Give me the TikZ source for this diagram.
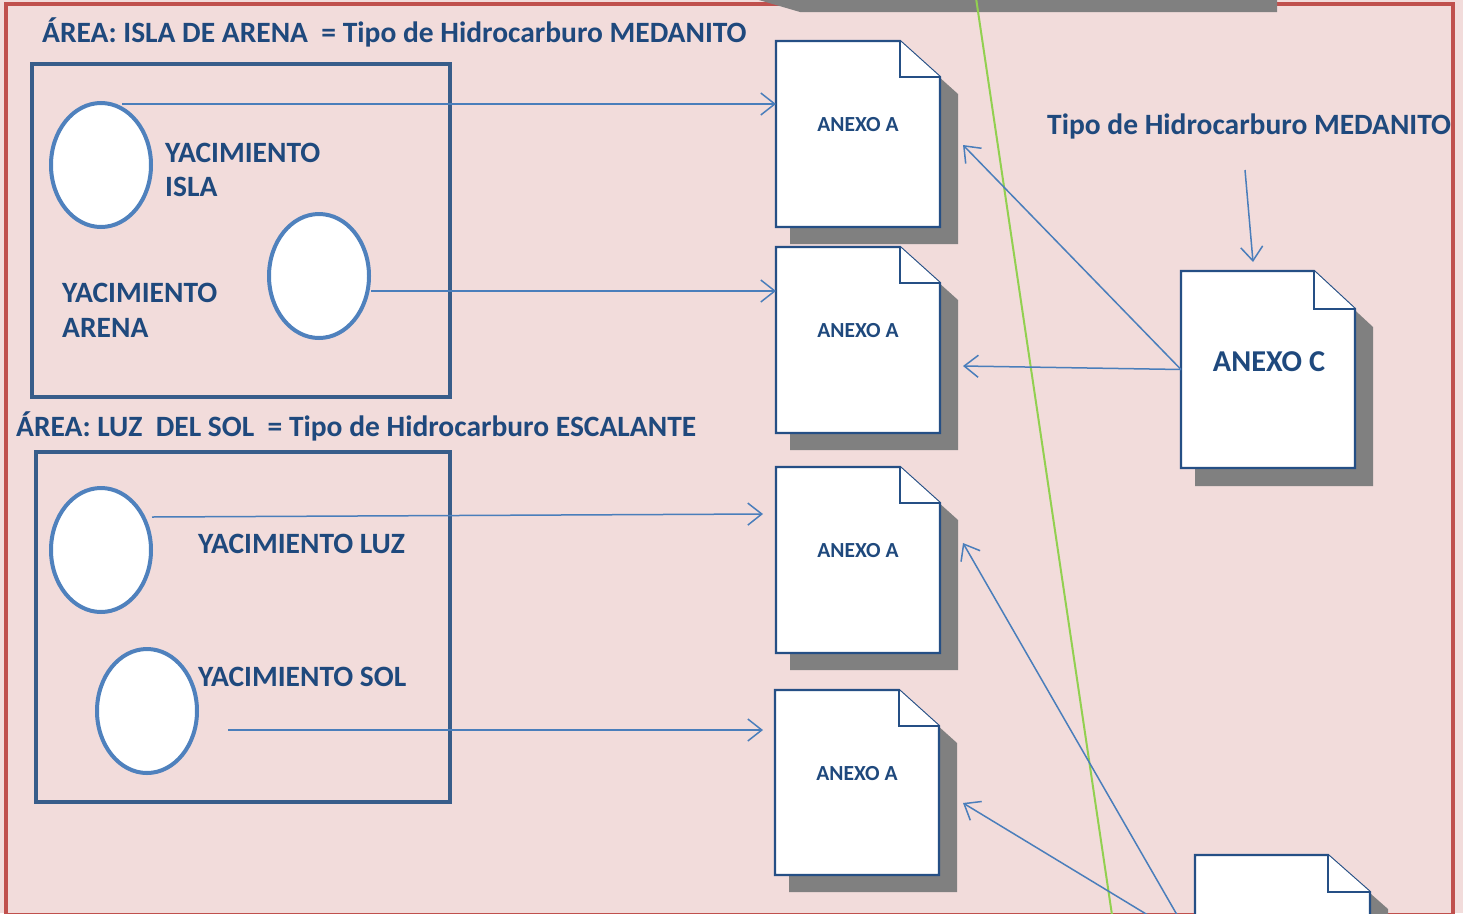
\documentclass[tikz,border=0pt]{standalone}
\usepackage{fontspec}
\setmainfont{Carlito}
\usetikzlibrary{arrows.meta,shapes.geometric}
\definecolor{bgpink}{HTML}{F2DCDB}
\definecolor{bordred}{HTML}{C0504D}
\definecolor{txtblue}{HTML}{1F497D}
\definecolor{boxblue}{HTML}{385D8A}
\definecolor{circblue}{HTML}{4F81BD}
\definecolor{arrblue}{HTML}{4A7EBB}
\definecolor{docblue}{HTML}{254F85}
\definecolor{shadowgray}{HTML}{808080}
\definecolor{greenline}{HTML}{92D050}
% #1 name, #2 left, #3 top, #4 right, #5 bottom, #6 fold width, #7 fold height, #8 shadow dx, #9 shadow dy
\newcommand\drawdoc[9]{%
  \fill[shadowgray] (#2+#8-4,#3+#9) -- (#4-#6+#8,#3+#9) -- (#4+#8,#3+#7+#9) -- (#4+#8,#5+#9) -- (#2+#8-4,#5+#9) -- cycle;
  \filldraw[docline] (#2,#3) -- (#4-#6,#3) -- (#4,#3+#7) -- (#4,#5) -- (#2,#5) -- cycle;
  \draw[docline] (#4-#6,#3) -- (#4-#6,#3+#7) -- (#4,#3+#7);
  \node[inner sep=0pt, outer sep=0pt, minimum width={#4-#2}, minimum height={#5-#3}] (#1) at ({(#2+#4)/2},{(#3+#5)/2}) {};
}
\begin{document}
\begin{tikzpicture}[x=1pt,y=-1pt,
  areabox/.style={draw=boxblue, line width=4pt},
  ell/.style={ellipse, draw=circblue, fill=white, line width=4pt, inner sep=0pt},
  docline/.style={draw=docblue, fill=white, line width=2.2pt, line join=miter},
  arr/.style={draw=arrblue, line width=1.5pt, -{Straight Barb[length=14pt,width=22pt,line width=1.5pt]}},
  ttl/.style={text=txtblue, font=\bfseries\fontsize{29.5}{35}\selectfont, inner sep=0pt, anchor=base west},
  yac/.style={text=txtblue, font=\bfseries\fontsize{29.5}{35}\selectfont, inner sep=0pt, anchor=base west, align=left},
  lblA/.style={text=txtblue, font=\bfseries\fontsize{21.5}{25}\selectfont, inner sep=0pt, anchor=base},
  lblC/.style={text=txtblue, font=\bfseries\fontsize{30.3}{36}\selectfont, inner sep=0pt, anchor=base}
]
\useasboundingbox (0,0) rectangle (1463,913);
\clip (0,0) rectangle (1463,913);
% background and border
\fill[bgpink] (0,0) rectangle (1463,913);
\draw[bordred, line width=4pt] (6,4) rectangle (1453,915);
% gray shadow bar at top
\fill[shadowgray] (752,-2) -- (1277,-2) -- (1277,12) -- (800,12) -- cycle;
% green line
\draw[greenline, line width=2pt] (976,-2) -- (1112,915);

% area boxes
\draw[areabox] (32,64) rectangle (450,397);
\draw[areabox] (36,452) rectangle (450,802);

% titles
\node[ttl] (t1) at (42,42.5) {ÁREA: ISLA DE ARENA\ \ = Tipo de Hidrocarburo MEDANITO};
\node[ttl] (t2) at (16,436) {ÁREA: LUZ\ \ DEL SOL\ \ = Tipo de Hidrocarburo ESCALANTE};
\node[ttl] (t3) at (1047,134) {Tipo de Hidrocarburo MEDANITO};

% circles
\node[ell, minimum width=100pt, minimum height=124pt] (c1) at (101,165) {};
\node[ell, minimum width=100pt, minimum height=124pt] (c2) at (319,276) {};
\node[ell, minimum width=100pt, minimum height=124pt] (c3) at (101,550) {};
\node[ell, minimum width=100pt, minimum height=124pt] (c4) at (147,711) {};

% yacimiento labels
\node[yac] (y1a) at (165,162) {YACIMIENTO};
\node[yac] (y1b) at (165,196) {ISLA};
\node[yac] (y2a) at (62,302) {YACIMIENTO};
\node[yac] (y2b) at (62,337) {ARENA};
\node[yac] (y3) at (198,553) {YACIMIENTO LUZ};
\node[yac] (y4) at (198,686) {YACIMIENTO SOL};

% documents
\drawdoc{d1}{776}{41}{940}{227}{40}{36}{18}{17}
\drawdoc{d2}{776}{247}{940}{433}{40}{36}{18}{17}
\drawdoc{d3}{776}{467}{940}{653}{40}{36}{18}{17}
\drawdoc{d4}{775}{690}{939}{875}{40}{36}{18}{17}
\drawdoc{dc}{1181}{271}{1355}{468}{41}{38}{18}{18}
\drawdoc{d5}{1195}{855}{1370}{1060}{42}{37}{18}{17}

\node[lblA] (la1) at (858,131) {ANEXO A};
\node[lblA] (la2) at (858,337) {ANEXO A};
\node[lblA] (la3) at (858,557) {ANEXO A};
\node[lblA] (la4) at (857,780) {ANEXO A};
\node[lblC] (lc) at (1269,371) {ANEXO C};

% connectors
\coordinate (a1s) at (122,104);
\draw[arr] (a1s) -- (a1s -| d1.west);
\coordinate (a2s) at (371,291);
\draw[arr] (a2s) -- (a2s -| d2.west);
\coordinate (a3s) at (152,517);
\coordinate (a3e) at (763,514);
\draw[arr] (a3s) -- (a3e);
\coordinate (a4s) at (228,730);
\coordinate (a4e) at (763,730);
\draw[arr] (a4s) -- (a4e);
\coordinate (a5e) at (963,366);
\draw[arr] (dc.west) -- (a5e);
\coordinate (a6e) at (963,145);
\draw[arr] (dc.west) -- (a6e);
\coordinate (a7s) at (1245,170);
\coordinate (a7e) at (1253,262);
\draw[arr] (a7s) -- (a7e);
\coordinate (a8s) at (1203,960);
\coordinate (a8e) at (963,543);
\draw[arr] (a8s) -- (a8e);
\coordinate (a9s) at (1222,960);
\coordinate (a9e) at (963,803);
\draw[arr] (a9s) -- (a9e);
\end{tikzpicture}
\end{document}
